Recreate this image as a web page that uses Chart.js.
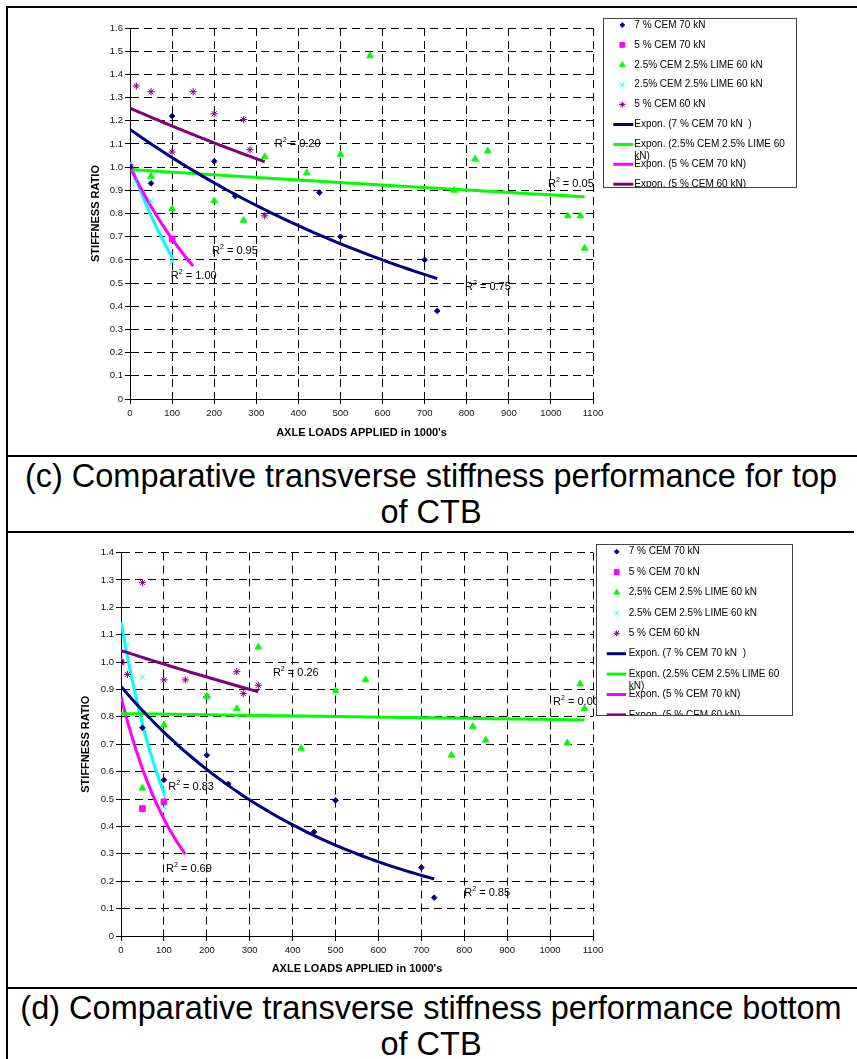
<!DOCTYPE html>
<html>
<head>
<meta charset="utf-8">
<script src="https://cdn.jsdelivr.net/npm/chart.js@4.4.0/dist/chart.umd.min.js"></script>
<style>
  html, body { margin: 0; padding: 0; background: #fff; width: 857px; height: 1059px; overflow: hidden; }
  body { font-family: "Liberation Sans", Arial, sans-serif; }
  #frame { position: absolute; left: 6px; top: 6px; width: 900px; border-left: 2px solid #000; border-top: 2px solid #000; }
  .row { position: relative; border-bottom: 2px solid #000; }
  .row canvas { position: absolute; left: 0; top: 0; }
  .cap { width: 846px; text-align: center; font-size: 32.5px; line-height: 36px; padding-top: 1px; color: #000; }
</style>
</head>
<body>
<div id="frame">
  <div class="row" style="height:447px"><canvas id="chartTop" width="845" height="447"></canvas></div>
  <div class="row cap" style="height:73px">(c) Comparative transverse stiffness performance for top<br>of CTB</div>
  <div class="row" style="height:454px"><canvas id="chartBottom" width="845" height="454"></canvas></div>
  <div class="row cap" style="height:80px;border-bottom:none">(d) Comparative transverse stiffness performance bottom<br>of CTB</div>
</div>
<script>
// ---- data (x = axle loads in 1000's, y = stiffness ratio) ----

// (c) top of CTB
const topNavyX = [0, 50, 100, 200, 250, 450, 500, 700, 730];
const topNavyY = [1.0, 0.93, 1.22, 1.025, 0.875, 0.89, 0.70, 0.60, 0.38];
const topPinkX = [0, 100];
const topPinkY = [1.0, 0.69];
const topGreenX = [0, 50, 100, 200, 270, 320, 420, 500, 570, 770, 820, 850, 1040, 1070, 1080];
const topGreenY = [1.0, 0.96, 0.82, 0.855, 0.77, 1.045, 0.975, 1.055, 1.48, 0.90, 1.035, 1.07, 0.79, 0.79, 0.65];
const topCyanX = [0, 12, 50, 100];
const topCyanY = [1.0, 0.94, 0.855, 0.59];
const topPurpleX = [0, 15, 50, 100, 150, 200, 270, 285, 320];
const topPurpleY = [1.0, 1.35, 1.325, 1.065, 1.325, 1.23, 1.205, 1.075, 0.79];
const topR2 = ['0.20', '0.95', '1.00', '0.75', '0.05'];

// (d) bottom of CTB
const botNavyX = [0, 50, 100, 200, 250, 450, 500, 700, 730];
const botNavyY = [1.0, 0.76, 0.57, 0.66, 0.555, 0.38, 0.495, 0.25, 0.14];
const botPinkX = [0, 50, 100];
const botPinkY = [1.0, 0.465, 0.49];
const botGreenX = [0, 50, 100, 200, 270, 320, 420, 500, 570, 770, 820, 850, 1040, 1070, 1080];
const botGreenY = [1.0, 0.54, 0.77, 0.875, 0.83, 1.055, 0.685, 0.895, 0.935, 0.66, 0.765, 0.715, 0.705, 0.92, 0.83];
const botCyanX = [0, 15, 50, 100];
const botCyanY = [1.0, 1.065, 0.945, 0.47];
const botPurpleX = [0, 15, 50, 100, 150, 200, 270, 285, 320];
const botPurpleY = [1.0, 0.955, 1.29, 0.935, 0.935, 0.875, 0.965, 0.885, 0.915];
const botR2 = ['0.26', '0.83', '0.69', '0.85', '0.00'];

const seriesLabels = ['7 % CEM 70 kN', '5 % CEM 70 kN', '2.5% CEM 2.5% LIME 60 kN', '2.5% CEM 2.5% LIME 60 kN', '5 % CEM 60 kN'];
const trendLabels = ['Expon. (7 % CEM 70 kN  )', 'Expon. (2.5% CEM 2.5% LIME 60 kN)', 'Expon. (5 % CEM 70 kN)', 'Expon. (5 % CEM 60 kN)', 'Expon. (2.5% CEM 2.5% LIME 60 kN)'];
const trendOf = [0, 2, 1, 4, 3];        // which series each trend line fits
const trendForward = [0, 0, 50, 0, 0];  // excel forecast forward (the 5 % CEM 70 kN line)

const xTitle = 'AXLE LOADS APPLIED in 1000\'s';
const yTitle = 'STIFFNESS RATIO';

// ---- styles ----
const colors = ['#000080', '#FF00FF', '#00FF00', '#00FFFF', '#800080'];
const markers = [
  { pointStyle: 'rectRot', radius: 2.8 },
  { pointStyle: 'rect', radius: 4 },
  { pointStyle: 'triangle', radius: 3.8 },
  { pointStyle: 'crossRot', radius: 3.6 },
  { pointStyle: 'star', radius: 3.6 }
];
const FONT = '"Liberation Sans", Arial, sans-serif';

// excel style exponential trendline: least squares on ln(y)
function expFit(xs, ys) {
  const n = xs.length;
  const ly = ys.map(v => Math.log(v));
  const mx = xs.reduce((a, b) => a + b, 0) / n;
  const my = ly.reduce((a, b) => a + b, 0) / n;
  let sxy = 0, sxx = 0;
  for (let i = 0; i < n; i++) {
    sxy += (xs[i] - mx) * (ly[i] - my);
    sxx += (xs[i] - mx) * (xs[i] - mx);
  }
  const b = sxy / sxx;
  return { a: Math.exp(my - b * mx), b: b };
}

function trendPoints(xs, ys, forward) {
  const f = expFit(xs, ys);
  const x0 = Math.min(...xs), x1 = Math.max(...xs) + forward;
  const pts = [];
  for (let i = 0; i <= 80; i++) {
    const x = x0 + (x1 - x0) * i / 80;
    pts.push({ x: x, y: f.a * Math.exp(f.b * x) });
  }
  return pts;
}

function buildDatasets(xsList, ysList) {
  const sets = xsList.map((xs, i) => ({
    label: seriesLabels[i],
    data: xs.map((x, j) => ({ x: x, y: ysList[i][j] })),
    showLine: false,
    pointStyle: markers[i].pointStyle,
    pointRadius: markers[i].radius,
    pointBackgroundColor: colors[i],
    pointBorderColor: colors[i],
    pointBorderWidth: 1
  }));
  trendOf.forEach((s, k) => {
    sets.push({
      label: trendLabels[k],
      data: trendPoints(xsList[s], ysList[s], trendForward[k]),
      showLine: true,
      borderColor: colors[s],
      borderWidth: 3,
      pointRadius: 0,
      isTrend: true
    });
  });
  return sets;
}

function drawMarker(ctx, style, radius, x, y) {
  if (Chart.helpers && Chart.helpers.drawPoint) {
    Chart.helpers.drawPoint(ctx, { pointStyle: style, radius: radius, rotation: 0, borderWidth: 1 }, x, y);
  } else {
    ctx.fillRect(x - radius / 2, y - radius / 2, radius, radius);
  }
}

// boxed legend, clipped like the original
const boxLegend = {
  id: 'boxLegend',
  afterDraw(chart, args, o) {
    const ctx = chart.ctx;
    const b = o.box;
    ctx.save();
    ctx.fillStyle = '#fff';
    ctx.fillRect(b.x, b.y, b.w, b.h);
    ctx.beginPath();
    ctx.rect(b.x, b.y, b.w, b.h);
    ctx.clip();
    ctx.font = '10px ' + FONT;
    ctx.textBaseline = 'middle';
    chart.data.datasets.forEach((ds, i) => {
      const cy = b.y + o.first + i * o.step;
      if (ds.isTrend) {
        ctx.strokeStyle = ds.borderColor;
        ctx.lineWidth = 3;
        ctx.beginPath();
        ctx.moveTo(b.x + o.lineFrom, cy);
        ctx.lineTo(b.x + o.lineTo, cy);
        ctx.stroke();
      } else {
        ctx.fillStyle = ds.pointBackgroundColor;
        ctx.strokeStyle = ds.pointBorderColor;
        ctx.lineWidth = 1;
        drawMarker(ctx, ds.pointStyle, ds.pointRadius * 0.85, b.x + o.markX, cy);
      }
      // wrap long labels
      const maxW = b.w - o.textX - 4;
      const words = ds.label.split(' ');
      const lines = [];
      let cur = '';
      words.forEach(w => {
        const t = cur === '' ? w : cur + ' ' + w;
        if (ctx.measureText(t).width > maxW && cur !== '') { lines.push(cur); cur = w; } else { cur = t; }
      });
      lines.push(cur);
      ctx.fillStyle = '#000';
      lines.forEach((ln, k) => ctx.fillText(ln, b.x + o.textX, cy + k * 12));
    });
    ctx.restore();
    ctx.save();
    ctx.strokeStyle = '#444';
    ctx.lineWidth = 1;
    ctx.strokeRect(b.x + 0.5, b.y + 0.5, b.w, b.h);
    ctx.restore();
  }
};

// R-squared labels
const rSquared = {
  id: 'rSquared',
  afterDatasetsDraw(chart, args, o) {
    const ctx = chart.ctx;
    const xs = chart.scales.x, ys = chart.scales.y;
    ctx.save();
    ctx.fillStyle = '#000';
    ctx.textBaseline = 'middle';
    o.items.forEach(it => {
      let px = xs.getPixelForValue(it.x);
      const py = ys.getPixelForValue(it.y);
      ctx.font = '11px ' + FONT;
      ctx.fillText('R', px, py);
      px += ctx.measureText('R').width;
      ctx.font = '7px ' + FONT;
      ctx.fillText('2', px, py - 4);
      px += ctx.measureText('2').width;
      ctx.font = '11px ' + FONT;
      ctx.fillText(' = ' + it.text, px, py);
    });
    ctx.restore();
  }
};

function makeChart(id, datasets, cfg) {
  return new Chart(document.getElementById(id), {
    type: 'scatter',
    data: { datasets: datasets },
    plugins: [rSquared, boxLegend],
    options: {
      responsive: false,
      animation: false,
      events: [],
      layout: { padding: cfg.padding },
      plugins: {
        legend: { display: false },
        tooltip: { enabled: false },
        boxLegend: cfg.legend,
        rSquared: { items: cfg.r2 }
      },
      scales: {
        x: {
          type: 'linear', min: 0, max: 1100,
          ticks: { stepSize: 100, color: '#111', padding: 4, font: { family: FONT, size: 9.5 }, callback: v => String(v) },
          grid: { color: '#000', lineWidth: 1, tickLength: 5, tickColor: '#000' },
          border: { display: true, color: '#000', width: 1, dash: [8, 5] },
          title: { display: true, text: xTitle, color: '#000', padding: 0, font: { family: FONT, size: 11, weight: 'bold' } },
          afterFit: s => { s.height = cfg.xH; }
        },
        y: {
          type: 'linear', min: 0, max: cfg.yMax,
          ticks: { stepSize: 0.1, color: '#111', padding: 2, font: { family: FONT, size: 9.5 } },
          grid: { color: '#000', lineWidth: 1, tickLength: 5, tickColor: '#000' },
          border: { display: true, color: '#000', width: 1, dash: [8, 5] },
          title: { display: true, text: yTitle, color: '#000', padding: 0, font: { family: FONT, size: 11, weight: 'bold' } },
          afterFit: s => { s.width = cfg.yW; }
        }
      }
    }
  });
}

makeChart('chartTop',
  buildDatasets([topNavyX, topPinkX, topGreenX, topCyanX, topPurpleX], [topNavyY, topPinkY, topGreenY, topCyanY, topPurpleY]),
  {
    yMax: 1.6,
    padding: { left: 81, top: 20, right: 260, bottom: 15 },
    yW: 41, xH: 41,
    legend: { box: { x: 595, y: 10, w: 193, h: 169 }, first: 7, step: 19.9, markX: 19.3, textX: 31.3, lineFrom: 10.3, lineTo: 30.3 },
    r2: [
      { text: topR2[0], x: 344, y: 1.10 },
      { text: topR2[1], x: 195, y: 0.638 },
      { text: topR2[2], x: 97, y: 0.53 },
      { text: topR2[3], x: 796, y: 0.483 },
      { text: topR2[4], x: 993, y: 0.927 }
    ]
  });

makeChart('chartBottom',
  buildDatasets([botNavyX, botPinkX, botGreenX, botCyanX, botPurpleX], [botNavyY, botPinkY, botGreenY, botCyanY, botPurpleY]),
  {
    yMax: 1.4,
    padding: { left: 71, top: 19.5, right: 260, bottom: 11 },
    yW: 42, xH: 40,
    legend: { box: { x: 588, y: 11, w: 196, h: 171 }, first: 7.7, step: 20.4, markX: 20.7, textX: 32.7, lineFrom: 10.7, lineTo: 30 },
    r2: [
      { text: botR2[0], x: 354, y: 0.96 },
      { text: botR2[1], x: 110, y: 0.544 },
      { text: botR2[2], x: 105, y: 0.245 },
      { text: botR2[3], x: 800, y: 0.157 },
      { text: botR2[4], x: 1007, y: 0.854 }
    ]
  });
</script>
</body>
</html>
